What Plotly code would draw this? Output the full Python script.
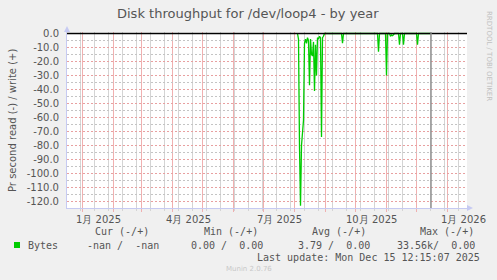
import plotly.graph_objects as go

# ---------------- data ----------------
title_text = "Disk throughput for /dev/loop4 - by year"
y_axis_title = "Pr second read (-) / write (+)"
series_name = "Bytes"

read_dates = [
    "2025-08-04", "2025-08-05", "2025-08-06", "2025-08-07", "2025-08-08",
    "2025-08-09", "2025-08-10", "2025-08-11", "2025-08-12", "2025-08-13",
    "2025-08-14", "2025-08-15", "2025-08-16", "2025-08-17", "2025-08-18",
    "2025-08-19", "2025-08-20", "2025-08-21", "2025-08-22", "2025-08-23",
    "2025-08-24", "2025-08-25", "2025-08-26", "2025-08-27", "2025-08-28",
    "2025-08-29", "2025-08-30", "2025-08-31",
    "2025-09-17", "2025-09-18", "2025-09-19",
    "2025-10-23", "2025-10-24", "2025-10-25",
    "2025-10-31", "2025-11-01", "2025-11-02",
    "2025-11-04", "2025-11-05", "2025-11-06", "2025-11-07", "2025-11-08", "2025-11-09",
    "2025-11-13", "2025-11-14", "2025-11-15",
    "2025-11-17", "2025-11-18", "2025-11-19",
    "2025-12-01", "2025-12-02", "2025-12-03",
    "2025-12-15",
]
read_values = [
    0, -4, -81, -123, -80,
    -66, -62, -7, -4, -7,
    -3, -5, -37, -4, -15,
    -16, -6, -41, -8, -30,
    -3, -4, -2, -3, -74,
    -3, -2, 0,
    0, -7, 0,
    0, -13, 0,
    0, -30, 0,
    0, -2, -1, -1.5, -1, 0,
    0, -8, 0,
    0, -8, 0,
    0, -8, 0,
    0,
]

y_tick_values = [0, -10, -20, -30, -40, -50, -60, -70, -80, -90, -100, -110, -120]
y_tick_labels = ["0.0", "-10.0", "-20.0", "-30.0", "-40.0", "-50.0", "-60.0",
                 "-70.0", "-80.0", "-90.0", "-100.0", "-110.0", "-120.0"]
y_minor_values = [-5, -15, -25, -35, -45, -55, -65, -75, -85, -95, -105, -115]

x_label_dates = ["2025-01-17", "2025-04-17", "2025-07-17", "2025-10-17", "2026-01-17"]
x_label_texts = ["1月 2025", "4月 2025", "7月 2025", "10月 2025", "1月 2026"]

legend_headers = ["Cur (-/+)", "Min (-/+)", "Avg (-/+)", "Max (-/+)"]
legend_values = ["-nan /  -nan", "0.00 /  0.00", "3.79 /  0.00", "33.56k/  0.00"]
last_update = "2025-12-15 12:15:07"
last_update_text = "Last update: Mon Dec 15 12:15:07 2025"
side_text = "RRDTOOL / TOBI OETIKER"
footer_text = "Munin 2.0.76"

# 400 days over 400 px, 1.4 px per unit
x_range = ["2024-12-16 12:00", "2026-01-20 12:00"]
y_range = [-(176 - 1.5) / 1.4, 1.5 / 1.4]

# ---------------- layout helpers ----------------
W, H = 497, 280
L, R, T, B = 67, 30, 32, 72
PW, PH = W - L - R, H - T - B


def px(x):
    return (x - L) / PW


def py(y):
    return (H - B - y) / PH


TEXT = "#555555"
SANS = "DejaVu Sans"
MONO = "DejaVu Sans Mono"
GREEN = "#00CC00"
AXIS = "#c6caf2"
MAJOR = "#f0b0b0"
MINOR = "#d4d4d4"
HMAJOR = "#e8a0a0"
HMINOR = "#c4c4c4"

fig = go.Figure()

# horizontal grid drawn as data-space line traces (minor grey, major pink)
for v in y_minor_values:
    fig.add_trace(go.Scatter(x=x_range, y=[v, v], mode="lines", hoverinfo="skip",
                             line=dict(color=HMINOR, width=1, dash="2px,2px"),
                             showlegend=False))
for v in y_tick_values[1:]:
    fig.add_trace(go.Scatter(x=x_range, y=[v, v], mode="lines", hoverinfo="skip",
                             line=dict(color=HMAJOR, width=1, dash="2px,2px"),
                             showlegend=False))

fig.add_trace(go.Scatter(
    x=read_dates, y=read_values, mode="lines", name=series_name,
    line=dict(color=GREEN, width=1.3), showlegend=False,
))

fig.update_layout(
    width=W, height=H,
    margin=dict(l=L, r=R, t=T, b=B, pad=0),
    paper_bgcolor="#F0F0F0", plot_bgcolor="#FFFFFF",
    font=dict(family=SANS, size=10, color=TEXT),
    showlegend=False,
    xaxis=dict(
        type="date", range=x_range, fixedrange=True,
        tickmode="linear", dtick="M1", tick0="2025-01-01",
        showgrid=True, gridcolor=MAJOR, gridwidth=1,
        showticklabels=False, ticks="outside", ticklen=3, tickcolor=MAJOR,
        minor=dict(tickmode="linear", dtick=14 * 86400000, tick0="2024-12-30",
                   showgrid=True, gridcolor=MINOR, gridwidth=1,
                   ticks="outside", ticklen=2, tickcolor=MINOR),
        showline=True, linecolor=AXIS, linewidth=1, zeroline=False,
    ),
    yaxis=dict(
        range=y_range, fixedrange=True,
        tickmode="array", tickvals=y_tick_values, ticktext=y_tick_labels,
        showgrid=False,
        ticks="", ticklabelstandoff=5,
        tickfont=dict(family=SANS, size=10, color=TEXT),
        showline=True, linecolor=AXIS, linewidth=1,
        zeroline=False,
    ),
)

# zero rule on top
fig.add_hline(y=0, line=dict(color="#000000", width=1.5), layer="above")

# x tick labels (mid-month, as rrdtool centres them)
for d, t in zip(x_label_dates, x_label_texts):
    fig.add_annotation(text=t, x=d, xref="x", y=py(219), yref="paper",
                       showarrow=False, xanchor="center", yanchor="middle",
                       font=dict(family=SANS, size=10, color=TEXT))

# "now" vertical rule at the last update time
fig.add_vline(x=last_update, line=dict(color="#8c8c8c", width=1.4), layer="above")

# axis arrows
fig.add_shape(type="path", xref="paper", yref="paper",
              path=f"M {px(64)} {py(32)} L {px(70)} {py(32)} L {px(67)} {py(26)} Z",
              fillcolor=AXIS, line=dict(width=0))
fig.add_shape(type="path", xref="paper", yref="paper",
              path=f"M {px(467)} {py(205)} L {px(467)} {py(211)} L {px(473)} {py(208)} Z",
              fillcolor=AXIS, line=dict(width=0))

# legend square
fig.add_shape(type="rect", xref="paper", yref="paper",
              x0=px(14), x1=px(20), y0=py(248), y1=py(242),
              fillcolor=GREEN, line=dict(width=0))


def ann(text, x, y, size=10, family=MONO, color=TEXT, xanchor="left", angle=0):
    fig.add_annotation(text=text.replace(" ", "\u00a0"), x=px(x), y=py(y),
                       xref="paper", yref="paper", showarrow=False,
                       xanchor=xanchor, yanchor="middle", textangle=angle,
                       font=dict(family=family, size=size, color=color))


# title
ann(title_text, 248, 13, size=13, family=SANS, xanchor="center")
# y-axis title
ann(y_axis_title, 12, 120, size=10, family=SANS, xanchor="center", angle=-90)
# side text
ann(side_text, 489, 56, size=7, family=SANS, color="#c0c0c0", xanchor="center", angle=90)

# legend block
header_right = [151, 260, 368, 476]
value_right = [161, 265, 372, 477]
for h, xr in zip(legend_headers, header_right):
    ann(h, xr, 232, xanchor="right")
ann(series_name, 26, 245)
for v, xr in zip(legend_values, value_right):
    ann(v, xr, 245, xanchor="right")
ann(last_update_text, 482, 257, xanchor="right")
ann(footer_text, 249, 269, size=7, family=SANS, color="#c8c8c8", xanchor="center")

fig.write_html("out.html")
